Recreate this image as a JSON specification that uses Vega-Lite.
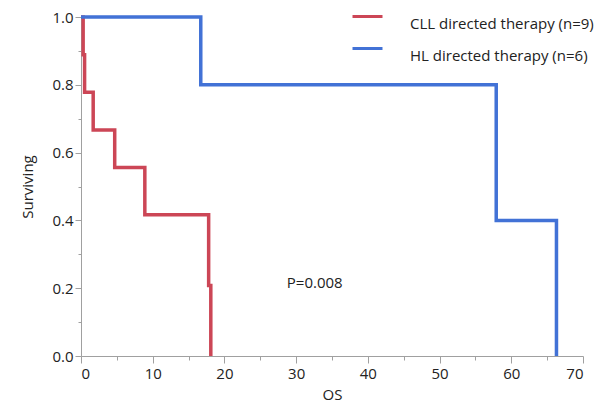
{
  "$schema": "https://vega.github.io/schema/vega-lite/v6.json",
  "autosize": {"type": "none"},
  "padding": {"left": 81, "top": 17, "right": 15, "bottom": 52},
  "width": 502,
  "height": 339,
  "config": {
    "font": "Open Sans",
    "view": {"stroke": null},
    "axis": {
      "domainColor": "#a0a0a0",
      "tickColor": "#a0a0a0",
      "grid": false,
      "labelFont": "Open Sans",
      "titleFont": "Open Sans",
      "labelFontSize": 15,
      "titleFontSize": 15,
      "labelColor": "#222222",
      "titleColor": "#222222",
      "titleFontWeight": "normal"
    }
  },
  "datasets": {
    "km": [
      {"os": 0, "surv": 1.0, "group": "CLL directed therapy (n=9)"},
      {"os": 0.3, "surv": 0.889, "group": "CLL directed therapy (n=9)"},
      {"os": 0.5, "surv": 0.778, "group": "CLL directed therapy (n=9)"},
      {"os": 1.7, "surv": 0.667, "group": "CLL directed therapy (n=9)"},
      {"os": 4.7, "surv": 0.556, "group": "CLL directed therapy (n=9)"},
      {"os": 8.9, "surv": 0.417, "group": "CLL directed therapy (n=9)"},
      {"os": 17.8, "surv": 0.208, "group": "CLL directed therapy (n=9)"},
      {"os": 18.1, "surv": 0.0, "group": "CLL directed therapy (n=9)"},
      {"os": 0, "surv": 1.0, "group": "HL directed therapy (n=6)"},
      {"os": 16.7, "surv": 0.8, "group": "HL directed therapy (n=6)"},
      {"os": 57.9, "surv": 0.4, "group": "HL directed therapy (n=6)"},
      {"os": 66.3, "surv": 0.0, "group": "HL directed therapy (n=6)"}
    ],
    "note": [
      {"os": 28.7, "surv": 0.215, "label": "P=0.008"}
    ]
  },
  "layer": [
    {
      "data": {"name": "km"},
      "mark": {"type": "line", "interpolate": "step-after", "strokeWidth": 3.5},
      "encoding": {
        "x": {
          "field": "os", "type": "quantitative",
          "scale": {"domain": [0, 70], "nice": false, "zero": false},
          "axis": {"orient": "bottom", "title": "OS", "values": [0, 10, 20, 30, 40, 50, 60, 70], "tickSize": 7, "labelPadding": 3, "titlePadding": 6}
        },
        "y": {
          "field": "surv", "type": "quantitative",
          "scale": {"domain": [0, 1], "nice": false},
          "axis": {"orient": "left", "title": "Surviving", "values": [0, 0.2, 0.4, 0.6, 0.8, 1.0], "format": ".1f", "tickSize": 6, "labelPadding": 2, "titlePadding": 16}
        },
        "color": {
          "field": "group", "type": "nominal",
          "scale": {"domain": ["CLL directed therapy (n=9)", "HL directed therapy (n=6)"], "range": ["#cc4656", "#4272d6"]},
          "legend": {
            "title": null,
            "orient": "none",
            "legendX": 270,
            "legendY": -17,
            "symbolType": "stroke",
            "symbolSize": 900,
            "symbolStrokeWidth": 3,
            "labelFont": "Open Sans",
            "labelFontSize": 15,
            "labelLimit": 0,
            "labelColor": "#222222",
            "labelOffset": 26,
            "labelBaseline": "top",
            "rowPadding": 0
          }
        }
      }
    },
    {
      "data": {"name": "note"},
      "mark": {"type": "text", "align": "left", "baseline": "middle", "fontSize": 15, "font": "Open Sans", "color": "#222222"},
      "encoding": {
        "x": {
          "field": "os", "type": "quantitative",
          "axis": {"orient": "bottom", "values": [5, 15, 25, 35, 45, 55, 65], "tickSize": 4, "labels": false, "domain": false, "title": null}
        },
        "y": {
          "field": "surv", "type": "quantitative",
          "axis": {"orient": "left", "values": [0.1, 0.3, 0.5, 0.7, 0.9], "tickSize": 3, "labels": false, "domain": false, "title": null}
        },
        "text": {"field": "label"}
      }
    }
  ],
  "resolve": {"axis": {"x": "independent", "y": "independent"}}
}
